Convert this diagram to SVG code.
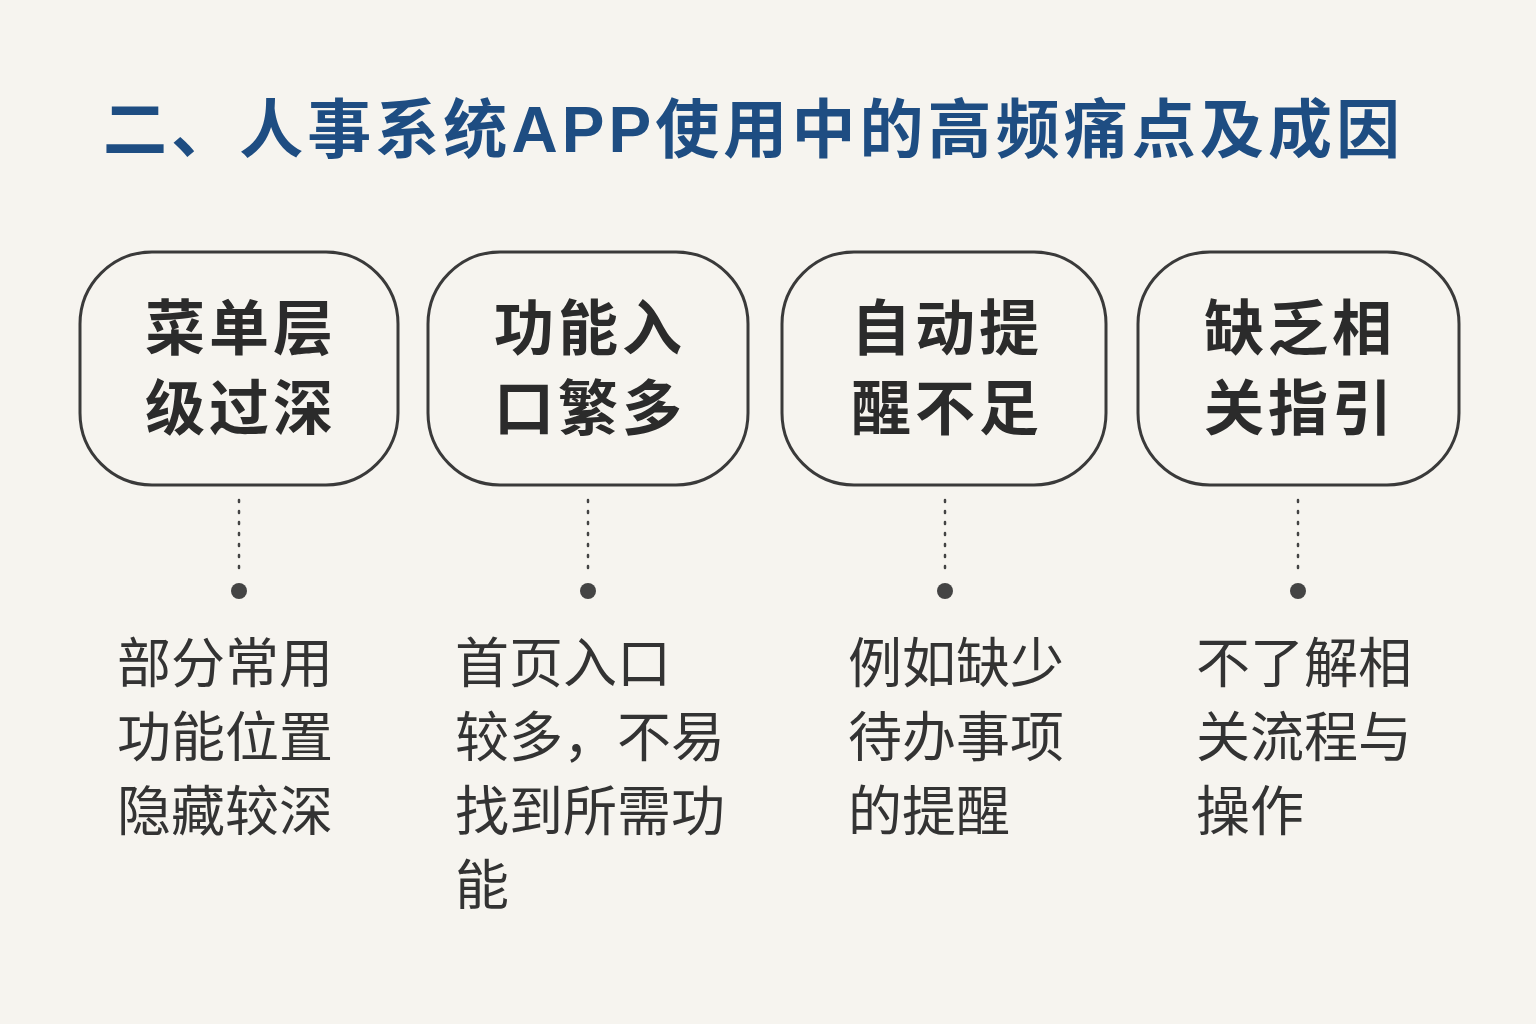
<svg xmlns="http://www.w3.org/2000/svg" width="1536" height="1024" viewBox="0 0 1536 1024">
<style>
.t{font-family:"Liberation Sans","Noto Sans CJK SC",sans-serif;font-weight:bold;font-size:64px;fill:#1e4d82}
.b{fill:none;stroke:#3a3a3a;stroke-width:3}
.bt{font-family:"Noto Sans CJK SC",sans-serif;font-weight:bold;font-size:60px;fill:#2b2b2b;text-anchor:middle}
.d{font-family:"Noto Sans CJK SC",sans-serif;font-size:54px;fill:#333}
.c{stroke:#444;stroke-width:2.5;stroke-dasharray:2 9;stroke-linecap:round}
.dot{fill:#444}
</style>
<rect width="1536" height="1024" fill="#f6f4ef"/>
<text class="t" x="103" y="152" textLength="1297" lengthAdjust="spacing">二、人事系统APP使用中的高频痛点及成因</text>
<g id="n1"><rect class="b" x="80" y="252" width="318" height="233" rx="72"/><text class="bt" x="239" y="350" textLength="188">菜单层</text><text class="bt" x="239" y="430" textLength="188">级过深</text></g>
<g id="n2"><rect class="b" x="428" y="252" width="320" height="233" rx="72"/><text class="bt" x="588" y="350" textLength="188">功能入</text><text class="bt" x="588" y="430" textLength="188">口繁多</text></g>
<g id="n3"><rect class="b" x="782" y="252" width="324" height="233" rx="72"/><text class="bt" x="945" y="350" textLength="188">自动提</text><text class="bt" x="945" y="430" textLength="188">醒不足</text></g>
<g id="n4"><rect class="b" x="1138" y="252" width="321" height="233" rx="72"/><text class="bt" x="1298" y="350" textLength="188">缺乏相</text><text class="bt" x="1298" y="430" textLength="188">关指引</text></g>
<g id="connectors">
<line class="c" x1="239" y1="500" x2="239" y2="575"/><circle class="dot" cx="239" cy="591" r="8"/>
<line class="c" x1="588" y1="500" x2="588" y2="575"/><circle class="dot" cx="588" cy="591" r="8"/>
<line class="c" x1="945" y1="500" x2="945" y2="575"/><circle class="dot" cx="945" cy="591" r="8"/>
<line class="c" x1="1298" y1="500" x2="1298" y2="575"/><circle class="dot" cx="1298" cy="591" r="8"/>
</g>
<g id="d1" class="d"><text x="117" y="683">部分常用</text><text x="117" y="757">功能位置</text><text x="117" y="831">隐藏较深</text></g>
<g id="d2" class="d"><text x="455" y="683">首页入口</text><text x="455" y="757">较多，不易</text><text x="455" y="831">找到所需功</text><text x="455" y="905">能</text></g>
<g id="d3" class="d"><text x="848" y="683">例如缺少</text><text x="848" y="757">待办事项</text><text x="848" y="831">的提醒</text></g>
<g id="d4" class="d"><text x="1196" y="683">不了解相</text><text x="1196" y="757">关流程与</text><text x="1196" y="831">操作</text></g>
</svg>
